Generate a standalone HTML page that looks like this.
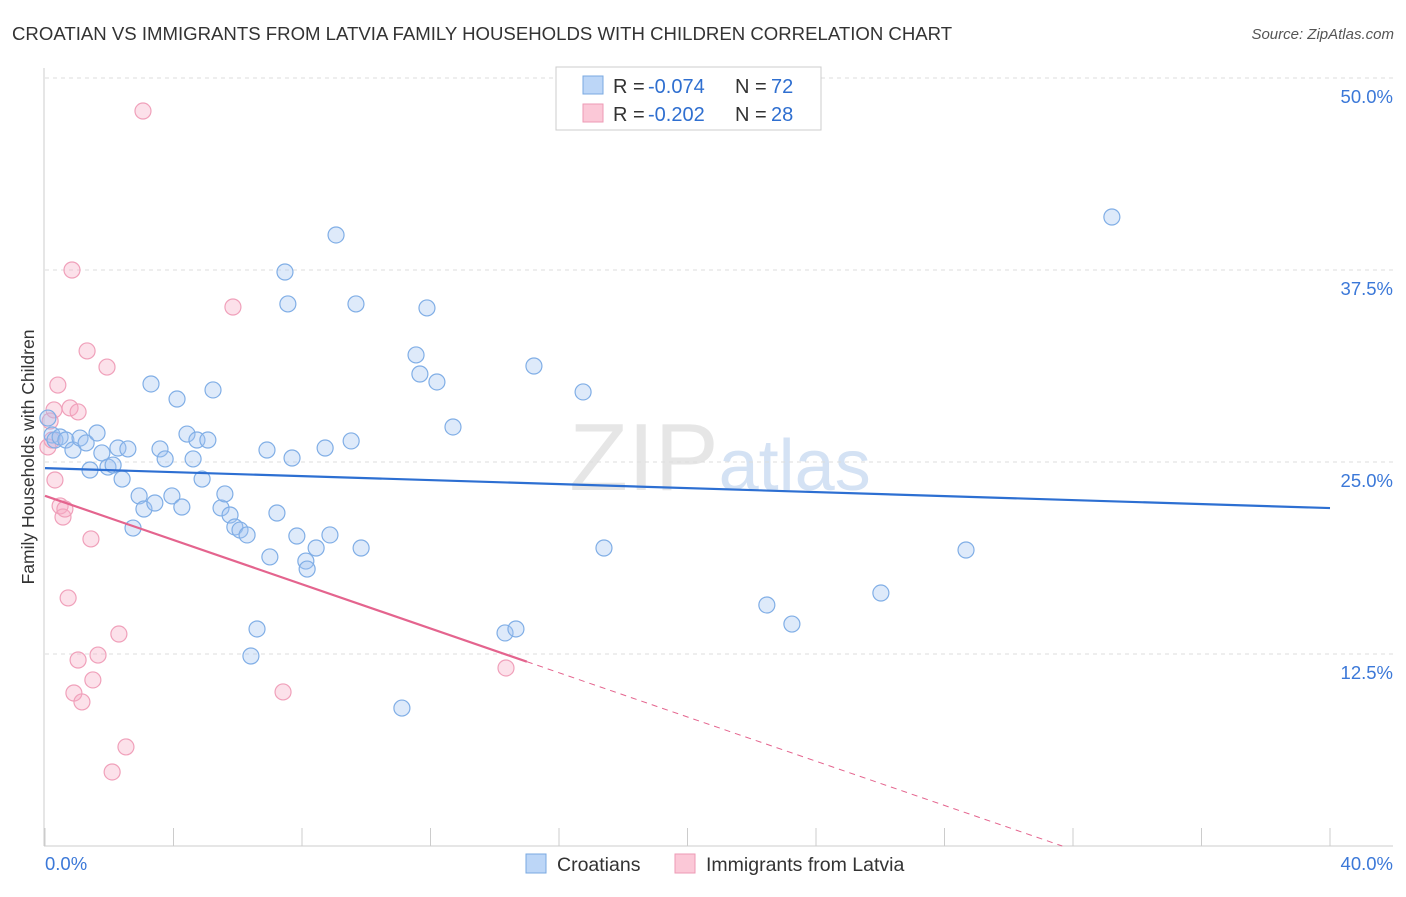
<!DOCTYPE html>
<html><head><meta charset="utf-8"><style>
body{margin:0;background:#fff;font-family:"Liberation Sans",sans-serif;}
svg text{font-family:"Liberation Sans",sans-serif;}
</style></head><body>
<svg id="c" width="1406" height="892">
<text x="12" y="40" font-size="18.6" fill="#333">CROATIAN VS IMMIGRANTS FROM LATVIA FAMILY HOUSEHOLDS WITH CHILDREN CORRELATION CHART</text>
<text x="1394" y="39" font-size="15" fill="#555" text-anchor="end" font-style="italic">Source: ZipAtlas.com</text>
<text x="720" y="490" font-size="96" fill="#e6e6e6" text-anchor="middle" font-family="Liberation Serif">ZIP<tspan fill="#d4e2f4" font-family="Liberation Sans" font-size="72">atlas</tspan></text>
<text transform="translate(34,457) rotate(-90)" font-size="17.5" fill="#333" text-anchor="middle">Family Households with Children</text>
<g id="grid"></g><g id="marks"></g>
<g>
<rect x="556" y="67" width="265" height="63" fill="#fff" stroke="#ccc"/>
<rect x="583" y="76" width="20" height="18" fill="#bcd6f7" stroke="#7aa8e0"/>
<rect x="583" y="104" width="20" height="18" fill="#bcd6f7" stroke="#7aa8e0" style="fill:#fbc8d7;stroke:#ee9ab4"/>
<text x="613" y="93" font-size="20" fill="#333">R =</text>
<text x="648" y="93" font-size="20" fill="#2f6fd0">-0.074</text>
<text x="735" y="93" font-size="20" fill="#333">N =</text>
<text x="771" y="93" font-size="20" fill="#2f6fd0">72</text>
<text x="613" y="121" font-size="20" fill="#333">R =</text>
<text x="648" y="121" font-size="20" fill="#2f6fd0">-0.202</text>
<text x="735" y="121" font-size="20" fill="#333">N =</text>
<text x="771" y="121" font-size="20" fill="#2f6fd0">28</text>
</g>
<g>
<rect x="526" y="854" width="20" height="19" fill="#bcd6f7" stroke="#7aa8e0"/>
<text x="557" y="871" font-size="19.5" fill="#333">Croatians</text>
<rect x="675" y="854" width="20" height="19" fill="#fbc8d7" stroke="#ee9ab4"/>
<text x="706" y="871" font-size="19.5" fill="#333">Immigrants from Latvia</text>
</g>
</svg>
<script>
const blueX=[0.09,0.22,0.31,0.47,0.65,0.87,1.09,1.28,1.40,1.62,1.77,1.96,2.12,2.27,2.40,2.58,2.74,2.93,3.08,3.30,3.42,3.58,3.74,3.95,4.11,4.26,4.42,4.61,4.73,4.89,5.07,5.23,5.48,5.60,5.76,5.91,6.07,6.29,6.41,6.60,6.91,7.00,7.22,7.47,7.56,7.69,7.84,8.12,8.16,8.44,8.72,8.87,9.06,9.53,9.68,9.84,11.11,11.55,11.67,11.89,12.20,12.70,14.32,14.66,15.22,16.75,17.40,22.47,23.25,26.02,28.67,33.21];
const blueY=[27.86,26.76,26.43,26.63,26.43,25.78,26.56,26.24,24.48,26.89,25.59,24.67,24.80,25.91,23.89,25.85,20.70,22.79,21.94,30.08,22.33,25.85,25.20,22.79,29.10,22.07,26.82,25.20,26.43,23.89,26.43,29.69,22.01,22.92,21.55,20.77,20.57,20.25,12.37,14.13,25.78,18.82,21.68,37.37,35.29,25.26,20.18,18.55,18.03,19.40,25.91,20.25,39.78,26.37,35.29,19.40,8.98,31.97,30.73,35.03,30.21,27.28,13.87,14.13,31.25,29.56,19.40,15.69,14.45,16.47,19.27,40.95];
const pinkX=[0.09,0.16,0.22,0.28,0.31,0.40,0.47,0.56,0.62,0.72,0.78,0.84,0.90,1.03,1.03,1.15,1.31,1.43,1.49,1.65,1.93,2.30,2.52,2.09,3.05,5.85,7.41,14.35];
const pinkY=[25.98,27.67,26.43,28.39,23.83,30.01,22.14,21.42,21.94,16.15,28.52,37.50,9.96,28.26,12.11,9.38,32.23,19.99,10.81,12.43,31.18,13.80,6.45,4.82,47.85,35.09,10.03,11.59];
const yTicks=[12.5,25,37.5,50];
const yTickLabels=["12.5%","25.0%","37.5%","50.0%"];
const blueTrend=[24.6,22.0];
const pinkTrend=[22.8,12.0];
const pinkSolidEnd=15;
const NS="http://www.w3.org/2000/svg";
const X=v=>45+v*32.125, Y=v=>846-v*15.36;
function mk(t,a,p){const e=document.createElementNS(NS,t);for(const k in a)e.setAttribute(k,a[k]);p.appendChild(e);return e;}
const g=document.getElementById('grid'), m=document.getElementById('marks');
yTicks.forEach((t,i)=>{
 const l=mk('line',{x1:45,x2:1393,y1:Y(t),y2:Y(t),stroke:'#ddd','stroke-dasharray':'4,4'},g);
 
 
 const tx=mk('text',{x:1393,y:Y(t)+25,'font-size':18.5,fill:'#3b78d8','text-anchor':'end'},g);
 tx.textContent=yTickLabels[i];
 
 
});
const ax=mk('line',{x1:44,x2:44,y1:68,y2:846,stroke:'#ccc'},g);


const bx=mk('line',{x1:44,x2:1393,y1:846,y2:846,stroke:'#ccc'},g);


for(let i=0;i<=10;i++){const t=mk('line',{x1:X(i*4),x2:X(i*4),y1:828,y2:846,stroke:'#ccc'},g);
 
 }
const x0=mk('text',{x:45,y:870,'font-size':18.5,fill:'#3b78d8'},g);x0.textContent='0.0%';


const x1=mk('text',{x:1393,y:870,'font-size':18.5,fill:'#3b78d8','text-anchor':'end'},g);x1.textContent='40.0%';


pinkX.forEach((v,i)=>{const c=mk('circle',{cx:X(v),cy:Y(pinkY[i]),r:8,fill:'rgba(246,170,195,0.35)',stroke:'#f0a0ba','stroke-width':1.2},m);
 
 });
blueX.forEach((v,i)=>{const c=mk('circle',{cx:X(v),cy:Y(blueY[i]),r:8,fill:'rgba(160,195,240,0.35)',stroke:'#80aee6','stroke-width':1.2},m);
 
 });
const bl=mk('line',{x1:X(0),y1:Y(blueTrend[0]),x2:X(40),y2:Y(blueTrend[1]),stroke:'#2d6fd2','stroke-width':2.2},m);


const slope=(pinkTrend[1]-pinkTrend[0])/pinkSolidEnd, xz=-pinkTrend[0]/slope;
const pl=mk('line',{x1:X(0),y1:Y(pinkTrend[0]),x2:X(pinkSolidEnd),y2:Y(pinkTrend[1]),stroke:'#e4648e','stroke-width':2.2},m);


const pd=mk('line',{x1:X(pinkSolidEnd),y1:Y(pinkTrend[1]),x2:X(xz),y2:Y(0),stroke:'#e4648e','stroke-width':1,'stroke-dasharray':'6,5'},m);


</script>
</body></html>
